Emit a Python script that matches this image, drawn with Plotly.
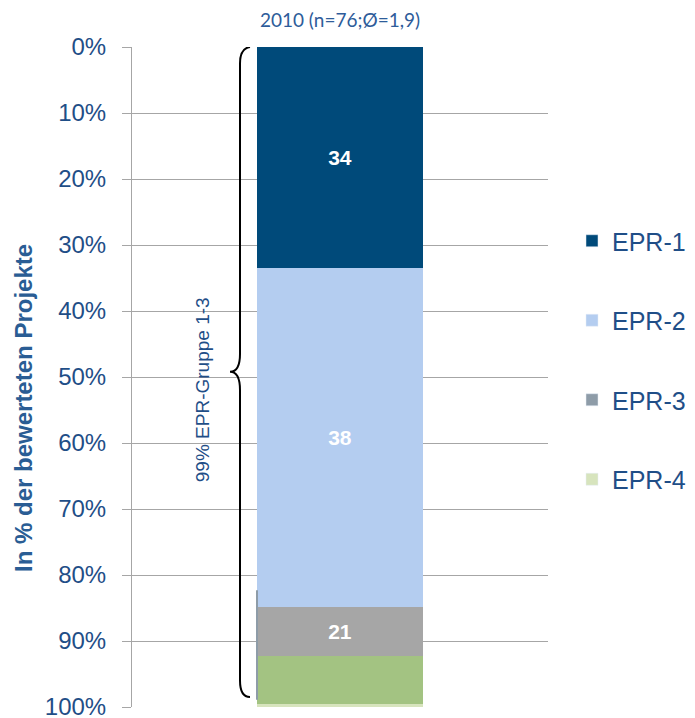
import plotly.graph_objects as go

# single stacked column, shares in % of rated projects (axis runs 0% top -> 100% bottom)
category = ["2010"]
series_names = ["EPR-1", "EPR-2", "EPR-3", "EPR-4 (Rest)", "EPR-4"]
series_values = [33.5, 51.3, 7.5, 7.2, 0.5]
bar_labels = ["34", "38", "21", "", ""]
bar_colors = ["#004A7A", "#B4CDF0", "#A6A6A6", "#A3C382", "#D7E4BD"]
legend_colors = ["#004A7A", "#B4CDF0", "#8E9CA8", None, "#D7E4BD"]
show_in_legend = [True, True, True, False, True]
bottom_label = "1%"
tick_vals = list(range(0, 101, 10))
tick_text = [f"{v}%" for v in tick_vals]

TXT_BLUE = "#1F4E87"
# positions below are measured on the reference screenshot (page has 8px body margin)
X0, Y0, PW, PH = 132, 47, 416, 660
W, H = 695, 718


def px2paper(px):
    return (px - X0) / PW


def py2paper(py):
    return 1 - (py - Y0) / PH


fig = go.Figure()

for i, name in enumerate(series_names):
    fig.add_trace(go.Bar(
        x=category,
        y=[series_values[i]],
        name=name,
        width=0.4,
        marker=dict(color=bar_colors[i], line=dict(width=0)),
        text=[bar_labels[i]],
        texttemplate="<b>%{text}</b>",
        textposition="inside",
        insidetextanchor="middle",
        textfont=dict(family="Liberation Sans, Arial", size=21, color="white"),
        showlegend=False,
        hoverinfo="name+y",
    ))
    if show_in_legend[i]:
        # legend-only swatch so the legend colour can differ from the bar
        fig.add_trace(go.Bar(
            x=category,
            y=[None],
            name=name,
            marker=dict(color=legend_colors[i]),
            legendgroup=name,
            showlegend=True,
            hoverinfo="skip",
        ))

# curly brace "99% EPR-Gruppe 1-3"
xv, xe, xt = px2paper(240), px2paper(250), px2paper(230)
brace = (f"M {xe},0 Q {xv},0.2 {xv},2.5 L {xv},46.5 "
         f"Q {xv},49.2 {xt},49.2 Q {xv},49.2 {xv},52 "
         f"L {xv},96 Q {xv},98.5 {xe},98.5")
fig.add_shape(type="path", path=brace, xref="paper", yref="y",
              line=dict(color="black", width=2))

# thin leftover edge next to the lower segments
fig.add_shape(type="line", xref="paper", yref="y",
              x0=px2paper(257), x1=px2paper(257), y0=82.3, y1=98.9,
              line=dict(color="#8E9CA8", width=2))

fig.add_annotation(x=px2paper(202), y=52, xref="paper", yref="y",
                   xanchor="center", yanchor="middle",
                   text="99% EPR-Gruppe 1-3", textangle=-90, showarrow=False,
                   font=dict(family="Liberation Sans, Arial", size=19, color=TXT_BLUE))

fig.add_annotation(x=category[0], y=100, xref="x", yref="y",
                   text=bottom_label, showarrow=False, yanchor="top", yshift=8,
                   font=dict(family="Liberation Sans, Arial", size=17, color=TXT_BLUE))

fig.add_annotation(x=px2paper(23), y=py2paper(408), xref="paper", yref="paper",
                   xanchor="center", yanchor="middle",
                   text="<b>In % der bewerteten Projekte</b>", textangle=-90,
                   showarrow=False,
                   font=dict(family="Liberation Sans, Arial", size=24, color="#2A5D94"))

fig.update_layout(
    width=W, height=H,
    barmode="stack",
    plot_bgcolor="white", paper_bgcolor="white",
    margin=dict(l=X0 - 8, r=W - (X0 - 8) - PW, t=Y0 - 8, b=H - (Y0 - 8) - PH,
                autoexpand=False),
    title=dict(text="2010 (n=76;Ø=1,9)", x=(340 - 8) / W, xanchor="center",
               y=1 - (20 - 8) / H, yanchor="middle",
               font=dict(family="Lato, Open Sans", size=19, color="#2E5C9A")),
    xaxis=dict(range=[-0.5, 0.5], showticklabels=False, showgrid=False,
               zeroline=False, showline=False, ticks="", automargin=False),
    yaxis=dict(range=[100, 0], tickvals=tick_vals, ticktext=tick_text,
               tickfont=dict(family="Liberation Sans, Arial", size=24, color=TXT_BLUE),
               showgrid=True, gridcolor="#A6A6A6", gridwidth=1,
               showline=True, linecolor="#A6A6A6", linewidth=1,
               ticks="outside", ticklen=9, tickcolor="#A6A6A6",
               ticklabelstandoff=11, ticklabeloverflow="allow",
               automargin=False, zeroline=False),
    legend=dict(x=px2paper(572), xanchor="left", y=py2paper(218), yanchor="top",
                traceorder="grouped", tracegroupgap=44,
                font=dict(family="Liberation Sans, Arial", size=25, color=TXT_BLUE),
                bgcolor="rgba(0,0,0,0)"),
)

fig.write_html("out.html")
